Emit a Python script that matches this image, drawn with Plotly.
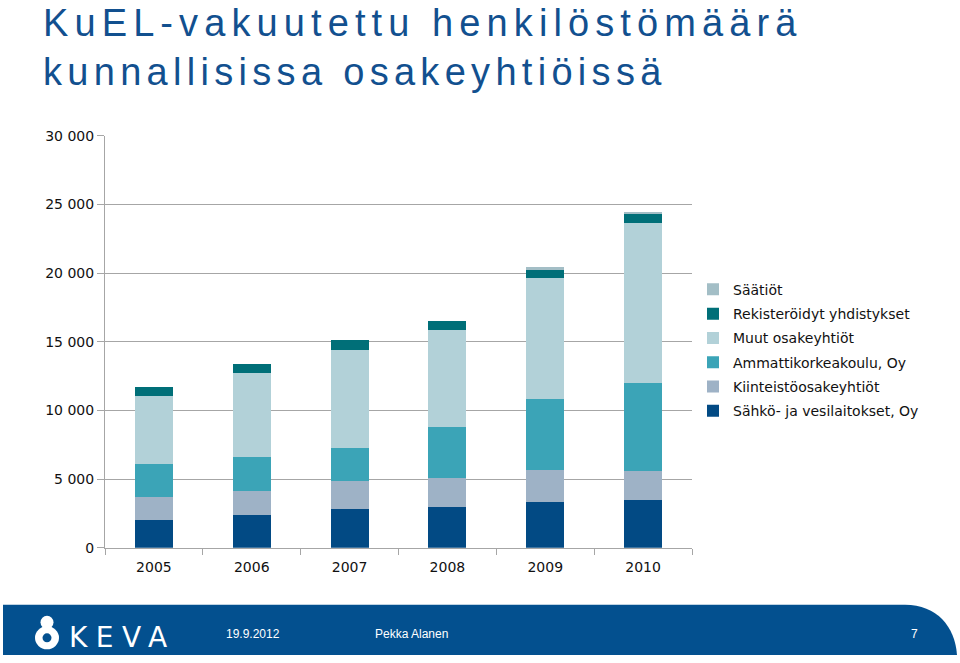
import plotly.graph_objects as go

W, H = 960, 663

years = ["2005", "2006", "2007", "2008", "2009", "2010"]
sahko = [2000, 2380, 2840, 2960, 3370, 3450]
kiinteisto = [1690, 1720, 2010, 2090, 2290, 2130]
amk = [2430, 2530, 2430, 3780, 5140, 6410]
muut = [4920, 6110, 7110, 7000, 8810, 11650]
rekisteroidyt = [660, 660, 760, 700, 630, 680]
saatiot = [0, 0, 0, 0, 200, 150]

series_names = [
    "Sähkö- ja vesilaitokset, Oy",
    "Kiinteistöosakeyhtiöt",
    "Ammattikorkeakoulu, Oy",
    "Muut osakeyhtiöt",
    "Rekisteröidyt yhdistykset",
    "Säätiöt",
]
series_values = [sahko, kiinteisto, amk, muut, rekisteroidyt, saatiot]
series_colors = ["#024A84", "#9EB2C6", "#3BA4B7", "#B2D1D8", "#006F78", "#A3BEC6"]

y_tickvals = [0, 5000, 10000, 15000, 20000, 25000, 30000]
y_ticktext = ["0", "5 000", "10 000", "15 000", "20 000", "25 000", "30 000"]

title_lines = ["KuEL-vakuutettu henkilöstömäärä", "kunnallisissa osakeyhtiöissä"]
footer_date = "19.9.2012"
footer_author = "Pekka Alanen"
footer_page = "7"

# the page is shown slightly squeezed vertically; compensate layout positions
VS, VO = 0.9757, 7.3

def px(x):
    return x / W

def ty(y):
    return (y - VO) / VS

def py(y):
    return 1 - ty(y) / H

fig = go.Figure()
n = len(series_names)
for i, (name, vals, col) in enumerate(zip(series_names, series_values, series_colors)):
    fig.add_trace(go.Bar(
        x=years, y=vals, name=name, marker=dict(color=col, line=dict(width=0)),
        legendgroup=name, legendrank=n - i,
    ))

grid_col = "#A6A6A6"
fig.update_layout(
    width=W, height=H,
    margin=dict(l=0, r=0, t=0, b=0),
    paper_bgcolor="white", plot_bgcolor="white",
    barmode="stack", bargap=0.61,
    showlegend=True,
    legend=dict(
        x=px(693), y=py(273), xanchor="left", yanchor="top",
        traceorder="grouped", tracegroupgap=3.1,
        itemwidth=30,
        font=dict(family="DejaVu Sans", size=14, color="#111111"),
        bgcolor="rgba(0,0,0,0)",
    ),
    xaxis=dict(
        domain=[px(105), px(692)], type="category", range=[-0.5, 5.5],
        showline=True, linecolor=grid_col, linewidth=1,
        ticks="outside", tickson="boundaries", ticklen=6, tickcolor=grid_col,
        ticklabelstandoff=6,
        tickfont=dict(family="DejaVu Sans", size=14, color="#111111"),
        showgrid=False, zeroline=False,
    ),
    yaxis=dict(
        domain=[py(547), py(135)], range=[0, 30000],
        tickvals=y_tickvals, ticktext=y_ticktext,
        showline=True, linecolor=grid_col, linewidth=1,
        ticks="outside", ticklen=7, tickcolor=grid_col,
        tickfont=dict(family="DejaVu Sans", size=14, color="#111111"),
        showgrid=True, gridcolor=grid_col, gridwidth=1,
        zeroline=False,
    ),
    font=dict(family="DejaVu Sans"),
)

# Title
fig.add_annotation(
    xref="paper", yref="paper", x=px(41), y=py(-1), xanchor="left", yanchor="top",
    showarrow=False, align="left",
    text=("<span style='letter-spacing:6.1px'>" + title_lines[0] + "</span><br>"
          "<span style='letter-spacing:5.3px'>" + title_lines[1] + "</span>"),
    font=dict(family="Liberation Sans", size=38, color="#12508F"),
)

# Footer band
blue = "#03508F"
x0, x1, xc = 3, 957, 905
yt, yb = 1 - ty(604) / H, 0.0
ymid = 1 - ty(626) / H
path = (f"M {px(x0)},{yt} L {px(xc)},{yt} "
        f"C {px(xc+32)},{yt} {px(x1-2)},{ymid} {px(x1)},{yb} "
        f"L {px(x0)},{yb} Z")
fig.add_shape(type="path", xref="paper", yref="paper", path=path,
              fillcolor=blue, line=dict(width=0), layer="below")

# Logo: head and body ring
def ell(cx, cy, rx, ry, color):
    fig.add_shape(type="circle", xref="paper", yref="paper",
                  x0=px(cx - rx), x1=px(cx + rx), y0=py(cy + ry), y1=py(cy - ry),
                  fillcolor=color, line=dict(width=0))

ell(47, 637, 12, 11.5, "white")
ell(47, 637, 4.5, 4.5, blue)
ell(47, 621.5, 6.5, 6.5, "white")

fig.add_annotation(
    xref="paper", yref="paper", x=px(67), y=py(637), xanchor="left", yanchor="middle",
    showarrow=False,
    text="<span style='letter-spacing:8.5px'>KEVA</span>",
    font=dict(family="DejaVu Sans", size=28, color="white"),
)

for txt, xx in [(footer_date, 224), (footer_author, 373)]:
    fig.add_annotation(
        xref="paper", yref="paper", x=px(xx), y=py(633), xanchor="left", yanchor="middle",
        showarrow=False, text=txt,
        font=dict(family="Liberation Sans", size=12, color="white"),
    )
fig.add_annotation(
    xref="paper", yref="paper", x=px(914), y=py(633), xanchor="center", yanchor="middle",
    showarrow=False, text=footer_page,
    font=dict(family="Liberation Sans", size=12, color="white"),
)

post = ("document.documentElement.style.margin='0px';"
        "document.documentElement.style.padding='0px';"
        "document.documentElement.style.overflow='hidden';"
        "document.body.style.margin='0px';"
        "document.body.style.padding='0px';"
        "document.body.style.overflow='hidden';")
fig.write_html("out.html", config={"displayModeBar": False}, post_script=post)
